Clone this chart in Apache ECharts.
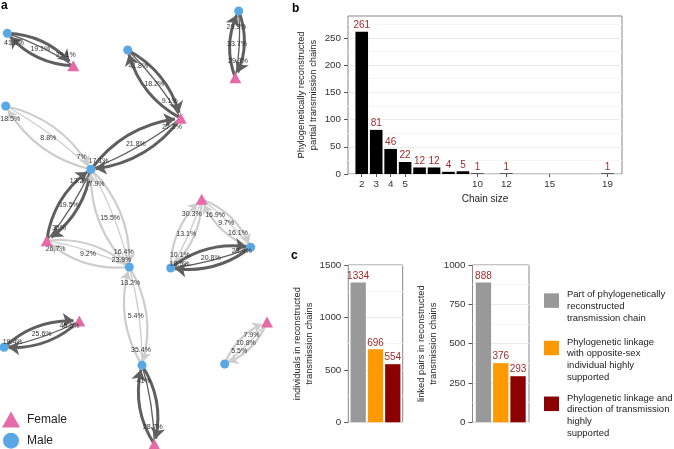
<!DOCTYPE html>
<html><head><meta charset="utf-8">
<script src="https://cdn.jsdelivr.net/npm/echarts@6/dist/echarts.min.js"></script>
<style>html,body{margin:0;padding:0;background:#fff}#c{width:674px;height:449px}</style>
</head><body><div id="c"></div>
<script>
// ---------- panel a : transmission network ----------
const nodeIds = ['A1','T1','B2','T2','B3','C','T4','D','E','T5','T6','F','G','T7','T8','H','I','J','T9'];
const nodeSex = ['Male','Female','Male','Female','Male','Male','Female','Male','Male','Female','Female','Male','Male','Female','Female','Male','Male','Male','Female'];
// network layout coordinates
const nodeLayout = [[7.3,33.3],[73.3,65.7],[127.7,50],[180.7,118.3],[5.7,106],[91,169.3],[46.7,240.7],[129.3,267],[142,365.3],[154.3,444.3],[79.3,321],[4,347.3],[238.7,11],[235.3,77.7],[201.7,199.3],[170.7,268],[250.7,247.3],[224.7,364],[267,322]];
const linkA    = ['A1','B2','T2','B3','C','C','T4','D','E','T6','G','T8','T8','I','T9'];
const linkB    = ['T1','T2','C','C','T4','D','D','E','T5','F','T7','H','I','H','J'];
const pctIntoA = [41.8,41.8,27.3,18.5,13.2,7.9,26.7,13.2,41,45.6,29.3,30.3,16.9,23.4,7.9];
const pctMid   = [19.1,18.2,21.8,8.8,19.5,15.5,9.2,5.4,null,25.6,33.7,13.1,9.7,20.8,10.8];
const pctIntoB = [39.1,9.1,17.1,7,35,16.4,23.9,35.4,28.7,19.4,29.3,10.1,16.1,18.5,5.5];
const linkStrong = [1,1,1,0,1,0,0,0,1,1,1,0,0,1,0];

// ---------- panel b : chain sizes ----------
const chainSize  = [2,3,4,5,6,7,8,9,10,12,19];
const chainCount = [261,81,46,22,12,12,4,5,1,1,1];
const chainTicks = [2,3,4,5,10,12,15,19];
const countTicks = [0,50,100,150,200,250];

// ---------- panel c ----------
const groupNames = ['Part of phylogenetically reconstructed transmission chain',
  'Phylogenetic linkage with opposite-sex individual highly supported',
  'Phylogenetic linkage and direction of transmission highly supported'];
const groupLines = [['Part of phylogenetically','reconstructed','transmission chain'],
  ['Phylogenetic linkage','with opposite-sex','individual highly','supported'],
  ['Phylogenetic linkage and','direction of transmission','highly','supported']];
const individuals = [1334,696,554];
const linkedPairs = [888,376,293];

const FONT = '"Liberation Sans", Arial, Helvetica, sans-serif';
const BLUE = '#58a8e6', PINK = '#e56aa7';
const DARK = '#5f5f5f', LIGHT = '#cdcdcd';
const RED_LABEL = '#9e2b2b';
const groupColors = ['#999999','#ff9900','#8b0000'];

const nodes = nodeIds.map((id,i)=>{
  const f = nodeSex[i]==='Female';
  return {name:id, value:nodeLayout[i], category: f?0:1,
    symbol: f?'triangle':'circle', symbolSize: f?[12,11]:9};
});
const links = [];
const pctFmt = p => p.value + '%';
linkA.forEach((a,i)=>{
  const b = linkB[i];
  const s = linkStrong[i];
  const col = s?DARK:LIGHT, w = s?3:2.2, arr = s?11:9;
  const lab = {show:true, position:'end', distance:-15, formatter:pctFmt};
  links.push({source:b, target:a, value:pctIntoA[i], symbol:['none','arrow'], symbolSize:[0,arr],
    lineStyle:{color:col,width:w,curveness:0.22,opacity:1}, label:lab});
  links.push({source:a, target:b, value:pctIntoB[i], symbol:['none','arrow'], symbolSize:[0,arr],
    lineStyle:{color:col,width:w,curveness:0.22,opacity:1}, label:lab});
  links.push({source:a, target:b, value:pctMid[i], symbol:['none','none'],
    lineStyle:{color:col,width:1.3,curveness:0.07,opacity:1}, label:{show:false}});
  if (pctMid[i] != null) {
    const pa = nodeLayout[nodeIds.indexOf(a)], pb = nodeLayout[nodeIds.indexOf(b)];
    nodes.push({name:'mid'+i, value:[(pa[0]+pb[0])/2,(pa[1]+pb[1])/2], symbol:'circle', symbolSize:1,
      itemStyle:{color:'rgba(0,0,0,0)'}, label:{show:true, position:'inside', formatter:()=>pctMid[i]+'%'}});
  }
});

const series = [{
  type:'graph', layout:'none', coordinateSystem:'cartesian2d', xAxisIndex:0, yAxisIndex:0,
  categories:[{name:'Female', symbol:'triangle', itemStyle:{color:PINK}},{name:'Male', symbol:'circle', itemStyle:{color:BLUE}}],
  data:nodes, links:links, silent:true,
  lineStyle:{opacity:1},
  label:{fontSize:7, color:'#333', fontFamily:FONT},
  edgeLabel:{fontSize:7, color:'#333', fontFamily:FONT},
  z:3
},{
  type:'bar', xAxisIndex:1, yAxisIndex:1, data:chainSize.map((s,i)=>[s,chainCount[i]]),
  barWidth:12.6, itemStyle:{color:'#000'}, silent:true,
  label:{show:true, position:'top', distance:1.5, fontSize:10, color:RED_LABEL, fontFamily:FONT}
}];
[individuals, linkedPairs].forEach((vals, g)=>{
  vals.forEach((v,k)=>{
    series.push({type:'bar', name:groupNames[k], xAxisIndex:2+g, yAxisIndex:2+g, data:[v],
      barWidth:15.3, barGap:'13%', itemStyle:{color:groupColors[k]}, silent:true,
      label:{show:true, position:'top', distance:1.5, fontSize:10, color:RED_LABEL, fontFamily:FONT}});
  });
});

const plainNum = v => String(v);
const axisBase = {
  axisLine:{show:false},
  axisTick:{show:true, length:4, lineStyle:{color:'#555'}},
  axisLabel:{fontSize:9.8, color:'#333', fontFamily:FONT, margin:7, formatter:plainNum},
  splitLine:{show:true, lineStyle:{color:'#ececec'}},
  minorSplitLine:{show:true, lineStyle:{color:'#f6f6f6'}},
  minorTick:{show:false, splitNumber:2},
  nameLocation:'middle', nameGap:29,
  nameTextStyle:{fontSize:9.4, lineHeight:12, color:'#222', fontFamily:FONT}
};
const gridBox = {show:true, borderColor:'#888', borderWidth:1, backgroundColor:'transparent'};

const legends = [{
  data:[{name:'Female', icon:'triangle'},{name:'Male', icon:'circle'}],
  orient:'vertical', left:2, top:411.5, itemWidth:18, itemHeight:16, itemGap:5.2, padding:0,
  selectedMode:false, textStyle:{fontSize:12, color:'#222', fontFamily:FONT, padding:[0,0,0,2]}
}];
const legendTops = [277.2, 312.9, 368.7];
groupNames.forEach((n,k)=>{
  const lead = groupLines[k].length === 3 ? 1 : 2;
  legends.push({data:[{name:n, icon:'rect'}], left:544, top:legendTops[k], itemWidth:15, itemHeight:14.5,
    padding:0, selectedMode:false,
    formatter:()=>'\n'.repeat(lead)+groupLines[k].join('\n'),
    textStyle:{fontSize:9.5, lineHeight:11.7, color:'#222', fontFamily:FONT, padding:[0,0,0,3]}});
});

const option = {
  animation:false,
  backgroundColor:'#fff',
  textStyle:{fontFamily:FONT},
  title:[
    {text:'a', left:1, top:0, padding:0, textStyle:{fontSize:12, fontWeight:'bold', color:'#000', fontFamily:FONT}},
    {text:'b', left:292, top:3, padding:0, textStyle:{fontSize:12, fontWeight:'bold', color:'#000', fontFamily:FONT}},
    {text:'c', left:291, top:250, padding:0, textStyle:{fontSize:12, fontWeight:'bold', color:'#000', fontFamily:FONT}}
  ],
  legend:legends,
  grid:[
    {left:0, top:0, width:674, height:449, show:false},
    Object.assign({left:348, top:16, width:274, height:158}, gridBox),
    Object.assign({left:348.3, top:265, width:54.4, height:157.3}, gridBox),
    Object.assign({left:472.5, top:265, width:56.5, height:157.3}, gridBox)
  ],
  xAxis:[
    {gridIndex:0, type:'value', min:0, max:674, show:false},
    {gridIndex:1, type:'value', min:1.05, max:20, name:'Chain size', nameLocation:'middle', nameGap:20,
      nameTextStyle:{fontSize:10, color:'#222', fontFamily:FONT},
      axisLine:{show:false}, splitLine:{show:false},
      axisTick:{show:true, length:3, customValues:chainTicks, lineStyle:{color:'#555'}},
      axisLabel:{customValues:chainTicks, fontSize:9.8, color:'#333', fontFamily:FONT, margin:5}},
    {gridIndex:2, type:'category', data:['n'], show:false},
    {gridIndex:3, type:'category', data:['n'], show:false}
  ],
  yAxis:[
    {gridIndex:0, type:'value', min:0, max:449, inverse:true, show:false},
    Object.assign({}, axisBase, {gridIndex:1, type:'value', min:0, max:290, interval:50,
      name:'Phylogenetically reconstructed\npartial transmission chains',
      axisTick:{show:true, length:4, customValues:countTicks, lineStyle:{color:'#555'}},
      axisLabel:Object.assign({}, axisBase.axisLabel, {customValues:countTicks})}),
    Object.assign({}, axisBase, {gridIndex:2, type:'value', min:0, max:1500, interval:500, nameGap:30,
      name:'individuals in reconstructed\ntransmission chains'}),
    Object.assign({}, axisBase, {gridIndex:3, type:'value', min:0, max:1000, interval:250, nameGap:30,
      name:'linked pairs in reconstructed\ntransmission chains'})
  ],
  series:series
};
const chart = echarts.init(document.getElementById('c'), null, {renderer:'canvas'});
chart.setOption(option);
</script></body></html>
